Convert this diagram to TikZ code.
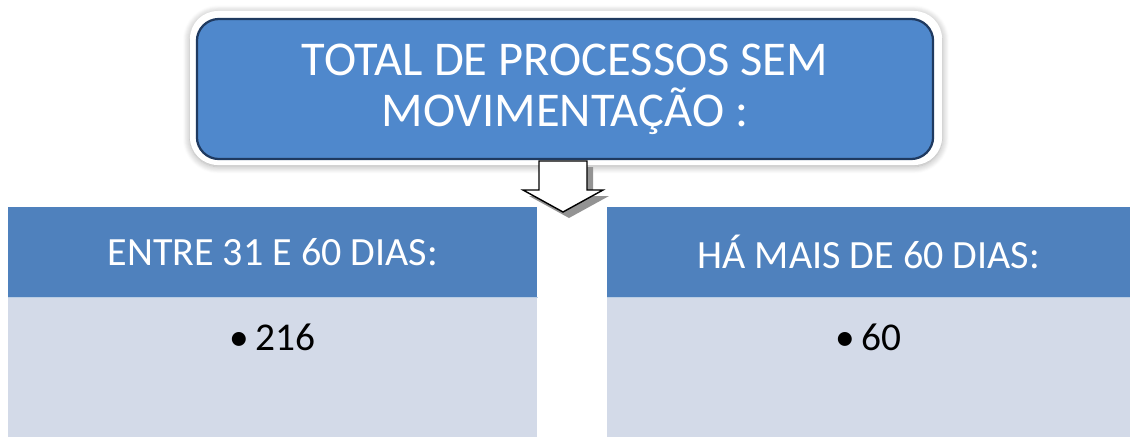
\documentclass[tikz,border=0pt]{standalone}
\usepackage{fontspec}
\setmainfont{Carlito}
\usepackage{xcolor}
\usetikzlibrary{positioning, shadows, shadows.blur, calc}

\definecolor{topblue}{HTML}{4F88CC}
\definecolor{topedge}{HTML}{1F3A60}
\definecolor{headblue}{HTML}{4F81BD}
\definecolor{bodygray}{HTML}{D3DAE8}

\begin{document}
\begin{tikzpicture}[
            x=0.025cm, y=-0.025cm,
            frame/.style={rectangle, rounded corners=0.7cm, fill=white, minimum width=18.8cm, minimum height=3.85cm,
                blur shadow={shadow blur steps=8, shadow xshift=0pt, shadow yshift=-1pt, shadow blur radius=5pt, shadow opacity=35}},
            topbox/.style={rectangle, rounded corners=0.55cm, draw=topedge, line width=1.6pt, fill=topblue,
                minimum width=18.4cm, minimum height=3.5cm, text=white, align=center, font=\fontsize{34.5}{36.5}\selectfont},
            head/.style={rectangle, fill=headblue, minimum height=2.25cm, text=white, font=\fontsize{28.5}{32}\selectfont},
            body/.style={rectangle, fill=bodygray, minimum height=3.475cm, anchor=north},
            value/.style={font=\fontsize{28}{32}\selectfont},
            downarrow/.style={draw=black, line width=1pt, fill=white, line join=miter}
        ]
            \useasboundingbox (0,0) rectangle (1130,436);

            % Top box
            \node[frame] (frame) at (566,88) {};
            \node[topbox] (top) at (565,89) {TOTAL DE PROCESSOS SEM\\MOVIMENTAÇÃO :};

            % Columns
            \node[head, anchor=north west, minimum width=13.225cm] (lefthead) at (8,207) {ENTRE 31 E 60 DIAS:};
            \node[body, minimum width=13.225cm] (leftbody) at (lefthead.south) {};
            \node[head, anchor=north west, minimum width=13.075cm] (righthead) at (607,207) {HÁ MAIS DE 60 DIAS:};
            \node[body, minimum width=13.075cm] (rightbody) at (righthead.south) {};
            \draw[white!60!headblue, line width=1pt] (lefthead.south west) -- (lefthead.south east);
            \draw[white!60!headblue, line width=1pt] (righthead.south west) -- (righthead.south east);
            \node[value] (leftval) at ($(leftbody.north)+(0,40)$) {\textbullet\,216};
            \node[value] (rightval) at ($(rightbody.north)+(0,40)$) {\textbullet\,60};

            % Arrow
            \coordinate (tail) at (563,161);
            \fill[gray!85] ($(tail)+(-24+6,6)$) -- ++(48,0) -- ++(0,29) -- ++(16,0) -- ++(-40,22) -- ++(-40,-22) -- ++(16,0) -- cycle;
            \draw[downarrow] ($(tail)+(-24,0)$) -- ++(48,0) -- ++(0,29) -- ++(16,0) -- ++(-40,22) -- ++(-40,-22) -- ++(16,0) -- cycle;
        \end{tikzpicture}
\end{document}
